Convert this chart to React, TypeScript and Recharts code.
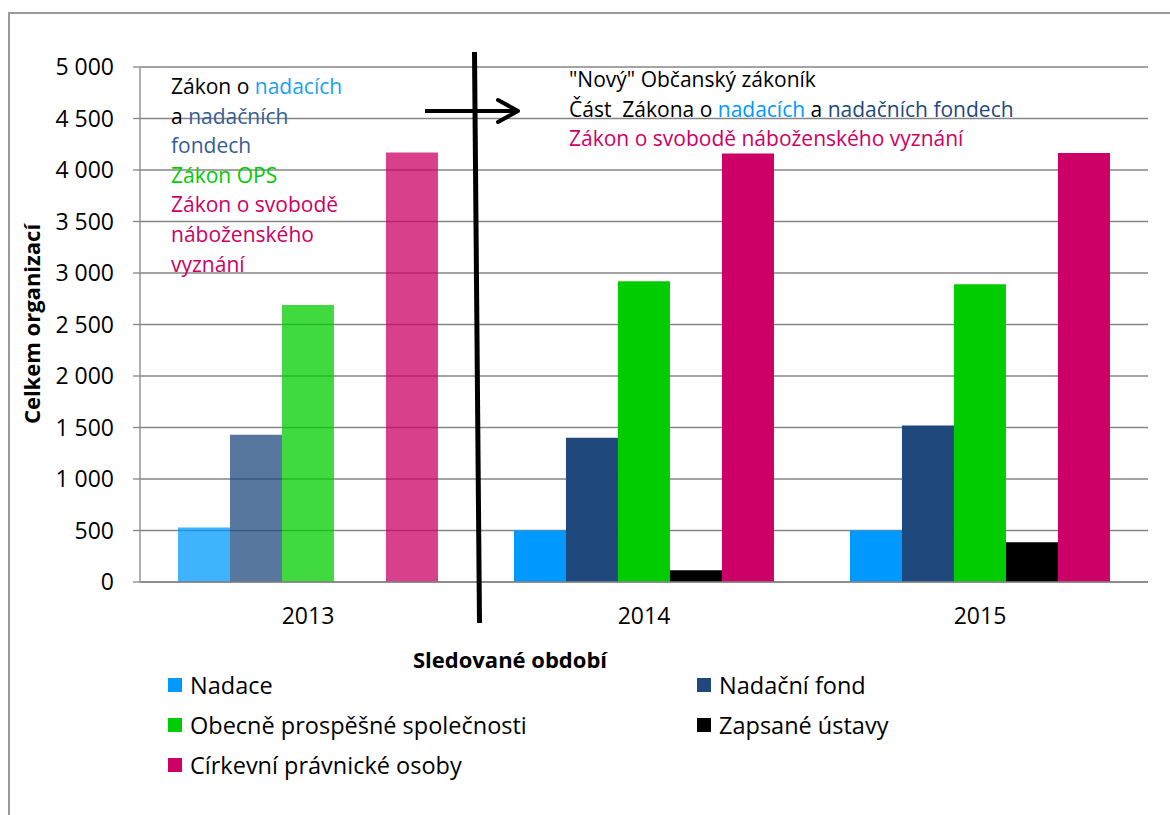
import React from "react";
import { BarChart, Bar, XAxis, YAxis, CartesianGrid, Cell } from "recharts";

const years = ["2013", "2014", "2015"];
const nadace = [530, 500, 500];
const nadacniFond = [1430, 1400, 1520];
const ops = [2690, 2920, 2890];
const zapsaneUstavy = [null, 115, 385];
const cirkevni = [4170, 4160, 4165];
const yTicks = [0, 500, 1000, 1500, 2000, 2500, 3000, 3500, 4000, 4500, 5000];
const boundaryTicks = [0, 1, 2, 3];

const seriesNames = [
  "Nadace",
  "Nadační fond",
  "Obecně prospěšné společnosti",
  "Zapsané ústavy",
  "Církevní právnické osoby",
];
const seriesKeys = ["nadace", "fond", "ops", "ustavy", "cirkevni"];
const seriesColors = ["#0099FF", "#1F497D", "#00CC00", "#000000", "#CC0066"];

const data = years.map((y, i) => ({
  year: y,
  nadace: nadace[i],
  fond: nadacniFond[i],
  ops: ops[i],
  ustavy: zapsaneUstavy[i],
  cirkevni: cirkevni[i],
}));

const FONT = "'Open Sans', Lato, sans-serif";
const FS = 21;
const TICK_FS = 23;
const LEG_FS = 23.5;
const TITLE_FS = 22;
const GRID = "#868686";

const fmt = (v: number) => String(v).replace(/\B(?=(\d{3})+(?!\d))/g, " ");

const legendLayout = [
  { idx: 0, left: 168, top: 685 },
  { idx: 1, left: 697, top: 685 },
  { idx: 2, left: 168, top: 725 },
  { idx: 3, left: 697, top: 725 },
  { idx: 4, left: 168, top: 765 },
];

export default function App() {
  const txt: React.CSSProperties = {
    position: "absolute",
    fontFamily: FONT,
    fontSize: FS,
    lineHeight: "29.6px",
    whiteSpace: "nowrap",
  };
  return (
    <div
      style={{
        position: "absolute",
        left: 0,
        top: 0,
        width: 1170,
        height: 815,
        background: "#fff",
        overflow: "hidden",
        fontFamily: FONT,
      }}
    >
      <div
        style={{
          position: "absolute",
          left: 8,
          top: 12,
          width: 1200,
          height: 900,
          border: "2px solid #9a9a9a",
          boxSizing: "border-box",
        }}
      />
      <div style={{ position: "absolute", left: 0, top: 0 }}>
        <BarChart
          width={1170}
          height={815}
          data={data}
          margin={{ top: 67, right: 22, bottom: 203, left: 0 }}
          barCategoryGap="11.3%"
          barGap={0}
        >
          <CartesianGrid
            xAxisId="cat"
            vertical={false}
            stroke={GRID}
            strokeWidth={1.3}
          />
          <XAxis
            xAxisId="bounds"
            type="number"
            domain={[0, 3]}
            ticks={boundaryTicks}
            height={0}
            tick={false}
            axisLine={false}
            tickLine={{ stroke: GRID, strokeWidth: 1.3 }}
            tickSize={7}
          />
          <XAxis
            xAxisId="cat"
            dataKey="year"
            height={30}
            axisLine={{ stroke: GRID, strokeWidth: 1.3 }}
            tickLine={false}
            tickMargin={20}
            tick={{ fill: "#000", fontSize: TICK_FS, fontFamily: FONT }}
          />
          <YAxis
            width={140}
            domain={[0, 5000]}
            ticks={yTicks}
            tickFormatter={fmt}
            axisLine={{ stroke: GRID, strokeWidth: 1.3 }}
            tickLine={{ stroke: GRID, strokeWidth: 1.3 }}
            tickSize={7}
            tickMargin={19}
            tick={{ fill: "#000", fontSize: TICK_FS, fontFamily: FONT }}
            interval={0}
          />
          {seriesKeys.map((k, si) => (
            <Bar
              key={k}
              xAxisId="cat"
              dataKey={k}
              fill={seriesColors[si]}
              isAnimationActive={false}
            >
              {data.map((d, i) => (
                <Cell
                  key={i}
                  fill={seriesColors[si]}
                  fillOpacity={i === 0 ? 0.75 : 1}
                />
              ))}
            </Bar>
          ))}
        </BarChart>
      </div>

      {/* Axis titles */}
      <div
        style={{
          position: "absolute",
          left: 31,
          top: 324,
          transform: "translate(-50%, -50%) rotate(-90deg)",
          fontFamily: FONT,
          fontWeight: 700,
          fontSize: TITLE_FS,
          whiteSpace: "nowrap",
        }}
      >
        Celkem organizací
      </div>
      <div
        style={{
          position: "absolute",
          left: 510,
          top: 659,
          transform: "translate(-50%, -50%)",
          fontFamily: FONT,
          fontWeight: 700,
          fontSize: TITLE_FS,
          whiteSpace: "nowrap",
        }}
      >
        Sledované období
      </div>

      {/* Legend */}
      {legendLayout.map((l) => (
        <div
          key={l.idx}
          style={{
            position: "absolute",
            left: l.left,
            top: l.top,
            transform: "translateY(-50%)",
            display: "flex",
            alignItems: "center",
            fontFamily: FONT,
            fontSize: LEG_FS,
            whiteSpace: "nowrap",
          }}
        >
          <span
            style={{
              display: "inline-block",
              width: 14,
              height: 14,
              background: seriesColors[l.idx],
              marginRight: 8,
            }}
          />
          {seriesNames[l.idx]}
        </div>
      ))}

      {/* Annotation 2013 */}
      <div style={{ ...txt, left: 171, top: 72 }}>
        <div>
          Zákon o <span style={{ color: "#1BA1F2" }}>nadacích</span>
        </div>
        <div>
          a <span style={{ color: "#355E92" }}>nadačních</span>
        </div>
        <div style={{ color: "#355E92" }}>fondech</div>
        <div style={{ color: "#00CC00" }}>Zákon OPS</div>
        <div style={{ color: "#CC0066" }}>Zákon o svobodě</div>
        <div style={{ color: "#CC0066" }}>náboženského</div>
        <div style={{ color: "#CC0066" }}>vyznání</div>
      </div>

      {/* Annotation 2014+ */}
      <div style={{ ...txt, left: 569, top: 65 }}>
        <div>"Nový" Občanský zákoník</div>
        <div>
          Část&nbsp; Zákona o <span style={{ color: "#0099FF" }}>nadacích</span> a{" "}
          <span style={{ color: "#1F497D" }}>nadačních fondech</span>
        </div>
        <div style={{ color: "#CC0066" }}>Zákon o svobodě náboženského vyznání</div>
      </div>

      {/* Divider line and arrow */}
      <svg
        width={1170}
        height={815}
        style={{ position: "absolute", left: 0, top: 0, pointerEvents: "none" }}
      >
        <line x1={474.5} y1={52} x2={479.5} y2={623} stroke="#000" strokeWidth={5} />
        <line x1={425} y1={111} x2={518} y2={111} stroke="#000" strokeWidth={4} />
        <polyline
          points="498,100 518,111 498,122"
          fill="none"
          stroke="#000"
          strokeWidth={4}
          strokeLinecap="round"
          strokeLinejoin="round"
        />
      </svg>
    </div>
  );
}
